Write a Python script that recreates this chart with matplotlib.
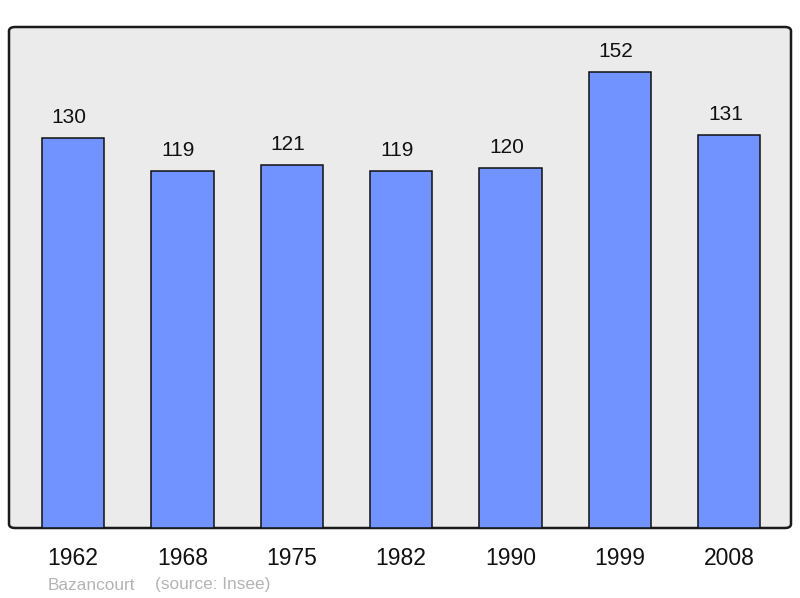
import matplotlib.pyplot as plt
from matplotlib.patches import FancyBboxPatch

plt.rcParams['font.family'] = ['Liberation Sans', 'DejaVu Sans']

years = ["1962", "1968", "1975", "1982", "1990", "1999", "2008"]
population = [130, 119, 121, 119, 120, 152, 131]

fig = plt.figure(figsize=(8, 5.98), dpi=100)
ax = fig.add_axes([9 / 800, 1 - 528 / 598, 782 / 800, 501 / 598])
ax.set_facecolor("none")

# frame with rounded corners
frame = FancyBboxPatch((0, 0), 1, 1, boxstyle="round,pad=0,rounding_size=0.008",
                       transform=ax.transAxes, facecolor="#ebebeb",
                       edgecolor="#1a1a1a", linewidth=1.8, zorder=0, clip_on=False)
ax.add_patch(frame)
for s in ax.spines.values():
    s.set_visible(False)

x = list(range(len(years)))
ax.bar(x, population, width=0.57, color="#7093ff", edgecolor="#111111",
       linewidth=1.1, zorder=2)
for xi, v in zip(x, population):
    ax.text(xi - 0.035, v + 5, str(v), ha="center", va="baseline", fontsize=15,
            color="#111111", zorder=3)

ax.set_xlim(-0.585, 6.565)
ax.set_ylim(0, 167)
ax.set_yticks([])
ax.set_xticks(x)
ax.set_xticklabels(years)
ax.tick_params(axis="x", length=0, pad=14, labelsize=16.5, colors="#111111")

fig.text(48 / 800, 1 - 585 / 598, "Bazancourt", fontsize=12.4,
         color="#b4b4b4", va="center", ha="left")
fig.text(155 / 800, 1 - 585 / 598, "(source: Insee)", fontsize=12.4,
         color="#b4b4b4", va="center", ha="left")

fig.savefig("out.png", dpi=100)
